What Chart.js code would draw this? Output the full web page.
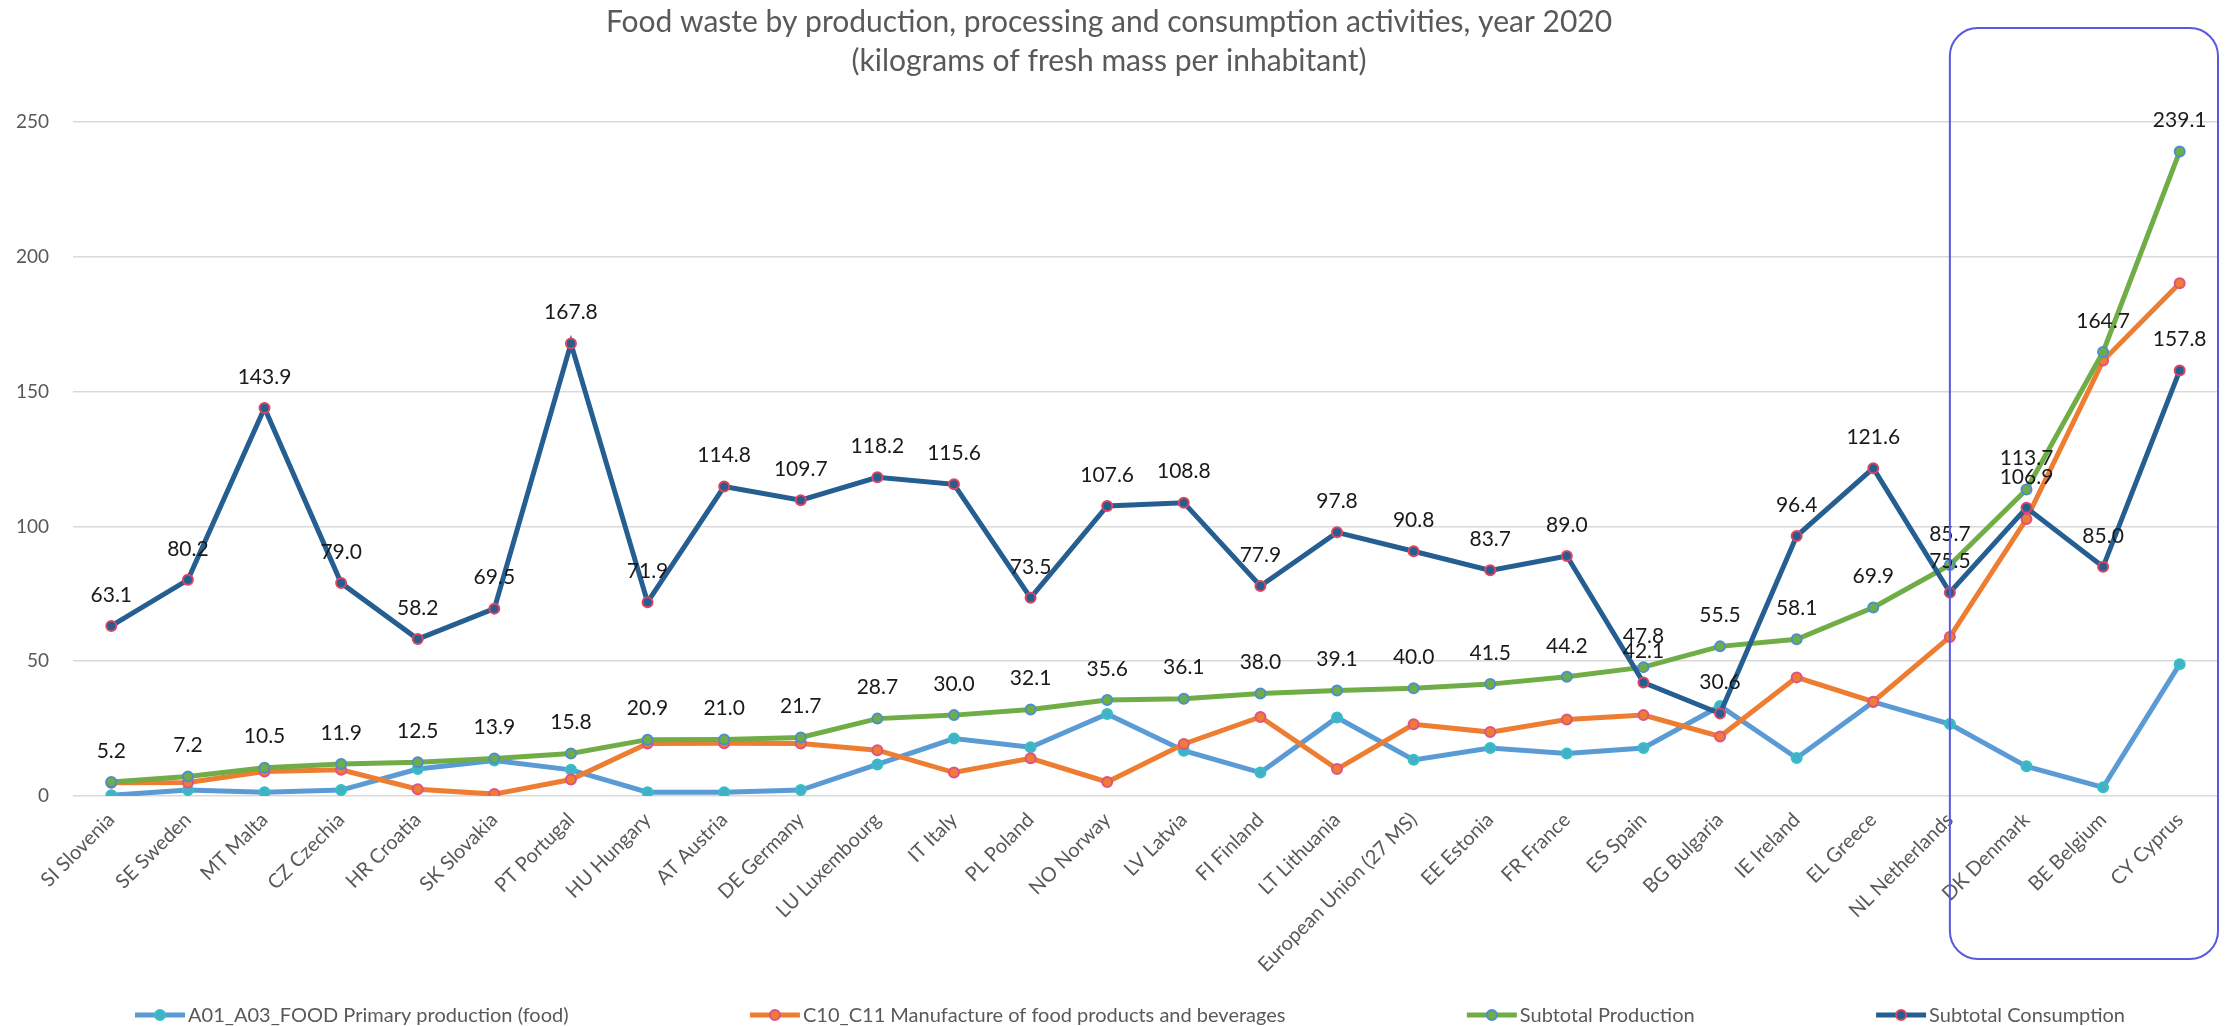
<!DOCTYPE html>
<html lang="en">
  <head>
    <meta charset="UTF-8" />
    <title>Food waste 2020</title>
    <script src="https://cdn.jsdelivr.net/npm/chart.js"></script>
    <style>
      html, body { margin: 0; padding: 0; background: #fff; }
      #wrap { width: 2226px; height: 1026px; }
    </style>
  </head>
  <body>
    <div id="wrap"><canvas id="myChart"></canvas></div>
    <script>
// categories (ordered by Subtotal Production)
const countries = [
  "SI Slovenia", "SE Sweden", "MT Malta", "CZ Czechia", "HR Croatia", "SK Slovakia",
  "PT Portugal", "HU Hungary", "AT Austria", "DE Germany", "LU Luxembourg", "IT Italy",
  "PL Poland", "NO Norway", "LV Latvia", "FI Finland", "LT Lithuania", "European Union (27 MS)",
  "EE Estonia", "FR France", "ES Spain", "BG Bulgaria", "IE Ireland", "EL Greece",
  "NL Netherlands", "DK Denmark", "BE Belgium", "CY Cyprus"
];

// kg per inhabitant
const primary = [0.3, 2.2, 1.4, 2.2, 10.0, 13.2, 9.7, 1.4, 1.4, 2.2, 11.7, 21.3,
  18.1, 30.4, 16.8, 8.7, 29.1, 13.4, 17.8, 15.8, 17.8, 33.4, 14.1, 34.9, 26.7, 11.0, 3.2, 48.9];
const manufacture = [4.9, 5.0, 9.1, 9.7, 2.5, 0.7, 6.1, 19.5, 19.6, 19.5, 17.0, 8.7,
  14.0, 5.2, 19.3, 29.3, 10.0, 26.6, 23.7, 28.4, 30.0, 22.1, 44.0, 35.0, 59.0, 102.7, 161.5, 190.2];
const production = [5.2, 7.2, 10.5, 11.9, 12.5, 13.9, 15.8, 20.9, 21.0, 21.7, 28.7, 30.0,
  32.1, 35.6, 36.1, 38.0, 39.1, 40.0, 41.5, 44.2, 47.8, 55.5, 58.1, 69.9, 85.7, 113.7, 164.7, 239.1];
const consumption = [63.1, 80.2, 143.9, 79.0, 58.2, 69.5, 167.8, 71.9, 114.8, 109.7, 118.2, 115.6,
  73.5, 107.6, 108.8, 77.9, 97.8, 90.8, 83.7, 89.0, 42.1, 30.6, 96.4, 121.6, 75.5, 106.9, 85.0, 157.8];

const yMin = 0;
const yMax = 250;
const yStep = 50;

const FONT = "Lato";
const GREY = "#595959";

// value labels above the two subtotal lines
const valueLabels = {
  id: "valueLabels",
  afterDatasetsDraw(chart) {
    const ctx = chart.ctx;
    ctx.save();
    ctx.font = "21px " + FONT;
    ctx.fillStyle = "#1a1a1a";
    ctx.textAlign = "center";
    ctx.textBaseline = "middle";
    chart.data.datasets.forEach((ds, i) => {
      if (!ds.showValues) return;
      chart.getDatasetMeta(i).data.forEach((pt, j) => {
        ctx.fillText(ds.data[j].toFixed(1), pt.x, pt.y - 31);
      });
    });
    ctx.restore();
  }
};

// rounded box around the last three countries
const highlightBox = {
  id: "highlightBox",
  afterDatasetsDraw(chart) {
    const ctx = chart.ctx;
    const x = chart.scales.x;
    const left = x.getPixelForValue(countries.indexOf("NL Netherlands"));
    const right = chart.chartArea.right;
    const top = 28, bottom = 959, r = 28;
    ctx.save();
    ctx.strokeStyle = "#5a5ae0";
    ctx.lineWidth = 2;
    ctx.beginPath();
    ctx.roundRect(left, top, right - left, bottom - top, r);
    ctx.stroke();
    ctx.restore();
  }
};

// legend spread along the bottom like the Excel one
const bottomLegend = {
  id: "bottomLegend",
  afterDraw(chart) {
    const ctx = chart.ctx;
    const y = 1015;
    const lineLen = 50, gapText = 3;
    ctx.save();
    ctx.font = "20px " + FONT;
    ctx.textBaseline = "middle";
    ctx.textAlign = "left";
    const items = chart.data.datasets.map(ds => ({
      ds, w: lineLen + gapText + ctx.measureText(ds.label).width
    }));
    const span = 1990;
    const total = items.reduce((s, it) => s + it.w, 0);
    const gap = (span - total) / (items.length - 1);
    let x = 135;
    items.forEach(({ ds, w }) => {
      ctx.strokeStyle = ds.borderColor;
      ctx.lineWidth = 5;
      ctx.beginPath();
      ctx.moveTo(x, y);
      ctx.lineTo(x + lineLen, y);
      ctx.stroke();
      ctx.beginPath();
      ctx.arc(x + lineLen / 2, y, 5, 0, Math.PI * 2);
      ctx.fillStyle = ds.pointBackgroundColor;
      ctx.fill();
      ctx.lineWidth = 2;
      ctx.strokeStyle = ds.pointBorderColor;
      ctx.stroke();
      ctx.fillStyle = GREY;
      ctx.fillText(ds.label, x + lineLen + gapText, y + 1);
      x += w + gap;
    });
    ctx.restore();
  }
};

const ctx = document.getElementById("myChart");
new Chart(ctx, {
  type: "line",
  data: {
    labels: countries,
    datasets: [
      {
        label: "A01_A03_FOOD Primary production (food)",
        data: primary,
        borderColor: "#5b9bd5",
        pointBackgroundColor: "#45aec8",
        pointBorderColor: "#33c2c4",
        order: 4
      },
      {
        label: "C10_C11 Manufacture of food products and beverages",
        data: manufacture,
        borderColor: "#ed7d31",
        pointBackgroundColor: "#ed7d31",
        pointBorderColor: "#e0508a",
        order: 3
      },
      {
        label: "Subtotal Production",
        data: production,
        borderColor: "#70ad47",
        pointBackgroundColor: "#70ad47",
        pointBorderColor: "#4a8fd0",
        showValues: true,
        order: 2
      },
      {
        label: "Subtotal Consumption",
        data: consumption,
        borderColor: "#255e91",
        pointBackgroundColor: "#255e91",
        pointBorderColor: "#e0445e",
        showValues: true,
        order: 1
      }
    ]
  },
  options: {
    responsive: true,
    maintainAspectRatio: false,
    animation: false,
    layout: { padding: { left: 0, right: 8, top: 0, bottom: 25 } },
    elements: {
      line: { borderWidth: 5, tension: 0 },
      point: { radius: 5, borderWidth: 2 }
    },
    scales: {
      x: {
        offset: true,
        grid: { display: false },
        border: { display: false },
        ticks: {
          autoSkip: false,
          minRotation: 45,
          maxRotation: 45,
          color: GREY,
          padding: 4,
          font: { family: FONT, size: 20 }
        },
        afterFit(scale) { scale.height = 205; }
      },
      y: {
        min: yMin,
        max: yMax,
        grid: { color: "#d9d9d9", lineWidth: 1.5, drawTicks: false },
        border: { display: false },
        ticks: {
          stepSize: yStep,
          color: GREY,
          padding: 24,
          font: { family: FONT, size: 19 }
        },
        afterFit(scale) { scale.width = 73; }
      }
    },
    plugins: {
      legend: { display: false },
      tooltip: { enabled: false },
      title: {
        display: true,
        text: [
          "Food waste by production, processing and consumption activities, year 2020",
          "(kilograms of fresh mass per inhabitant)"
        ],
        color: GREY,
        font: { family: FONT, size: 30, weight: "normal", lineHeight: 1.3 },
        padding: { top: 3, bottom: 41 }
      }
    }
  },
  plugins: [valueLabels, highlightBox, bottomLegend]
});
    </script>
  </body>
</html>
